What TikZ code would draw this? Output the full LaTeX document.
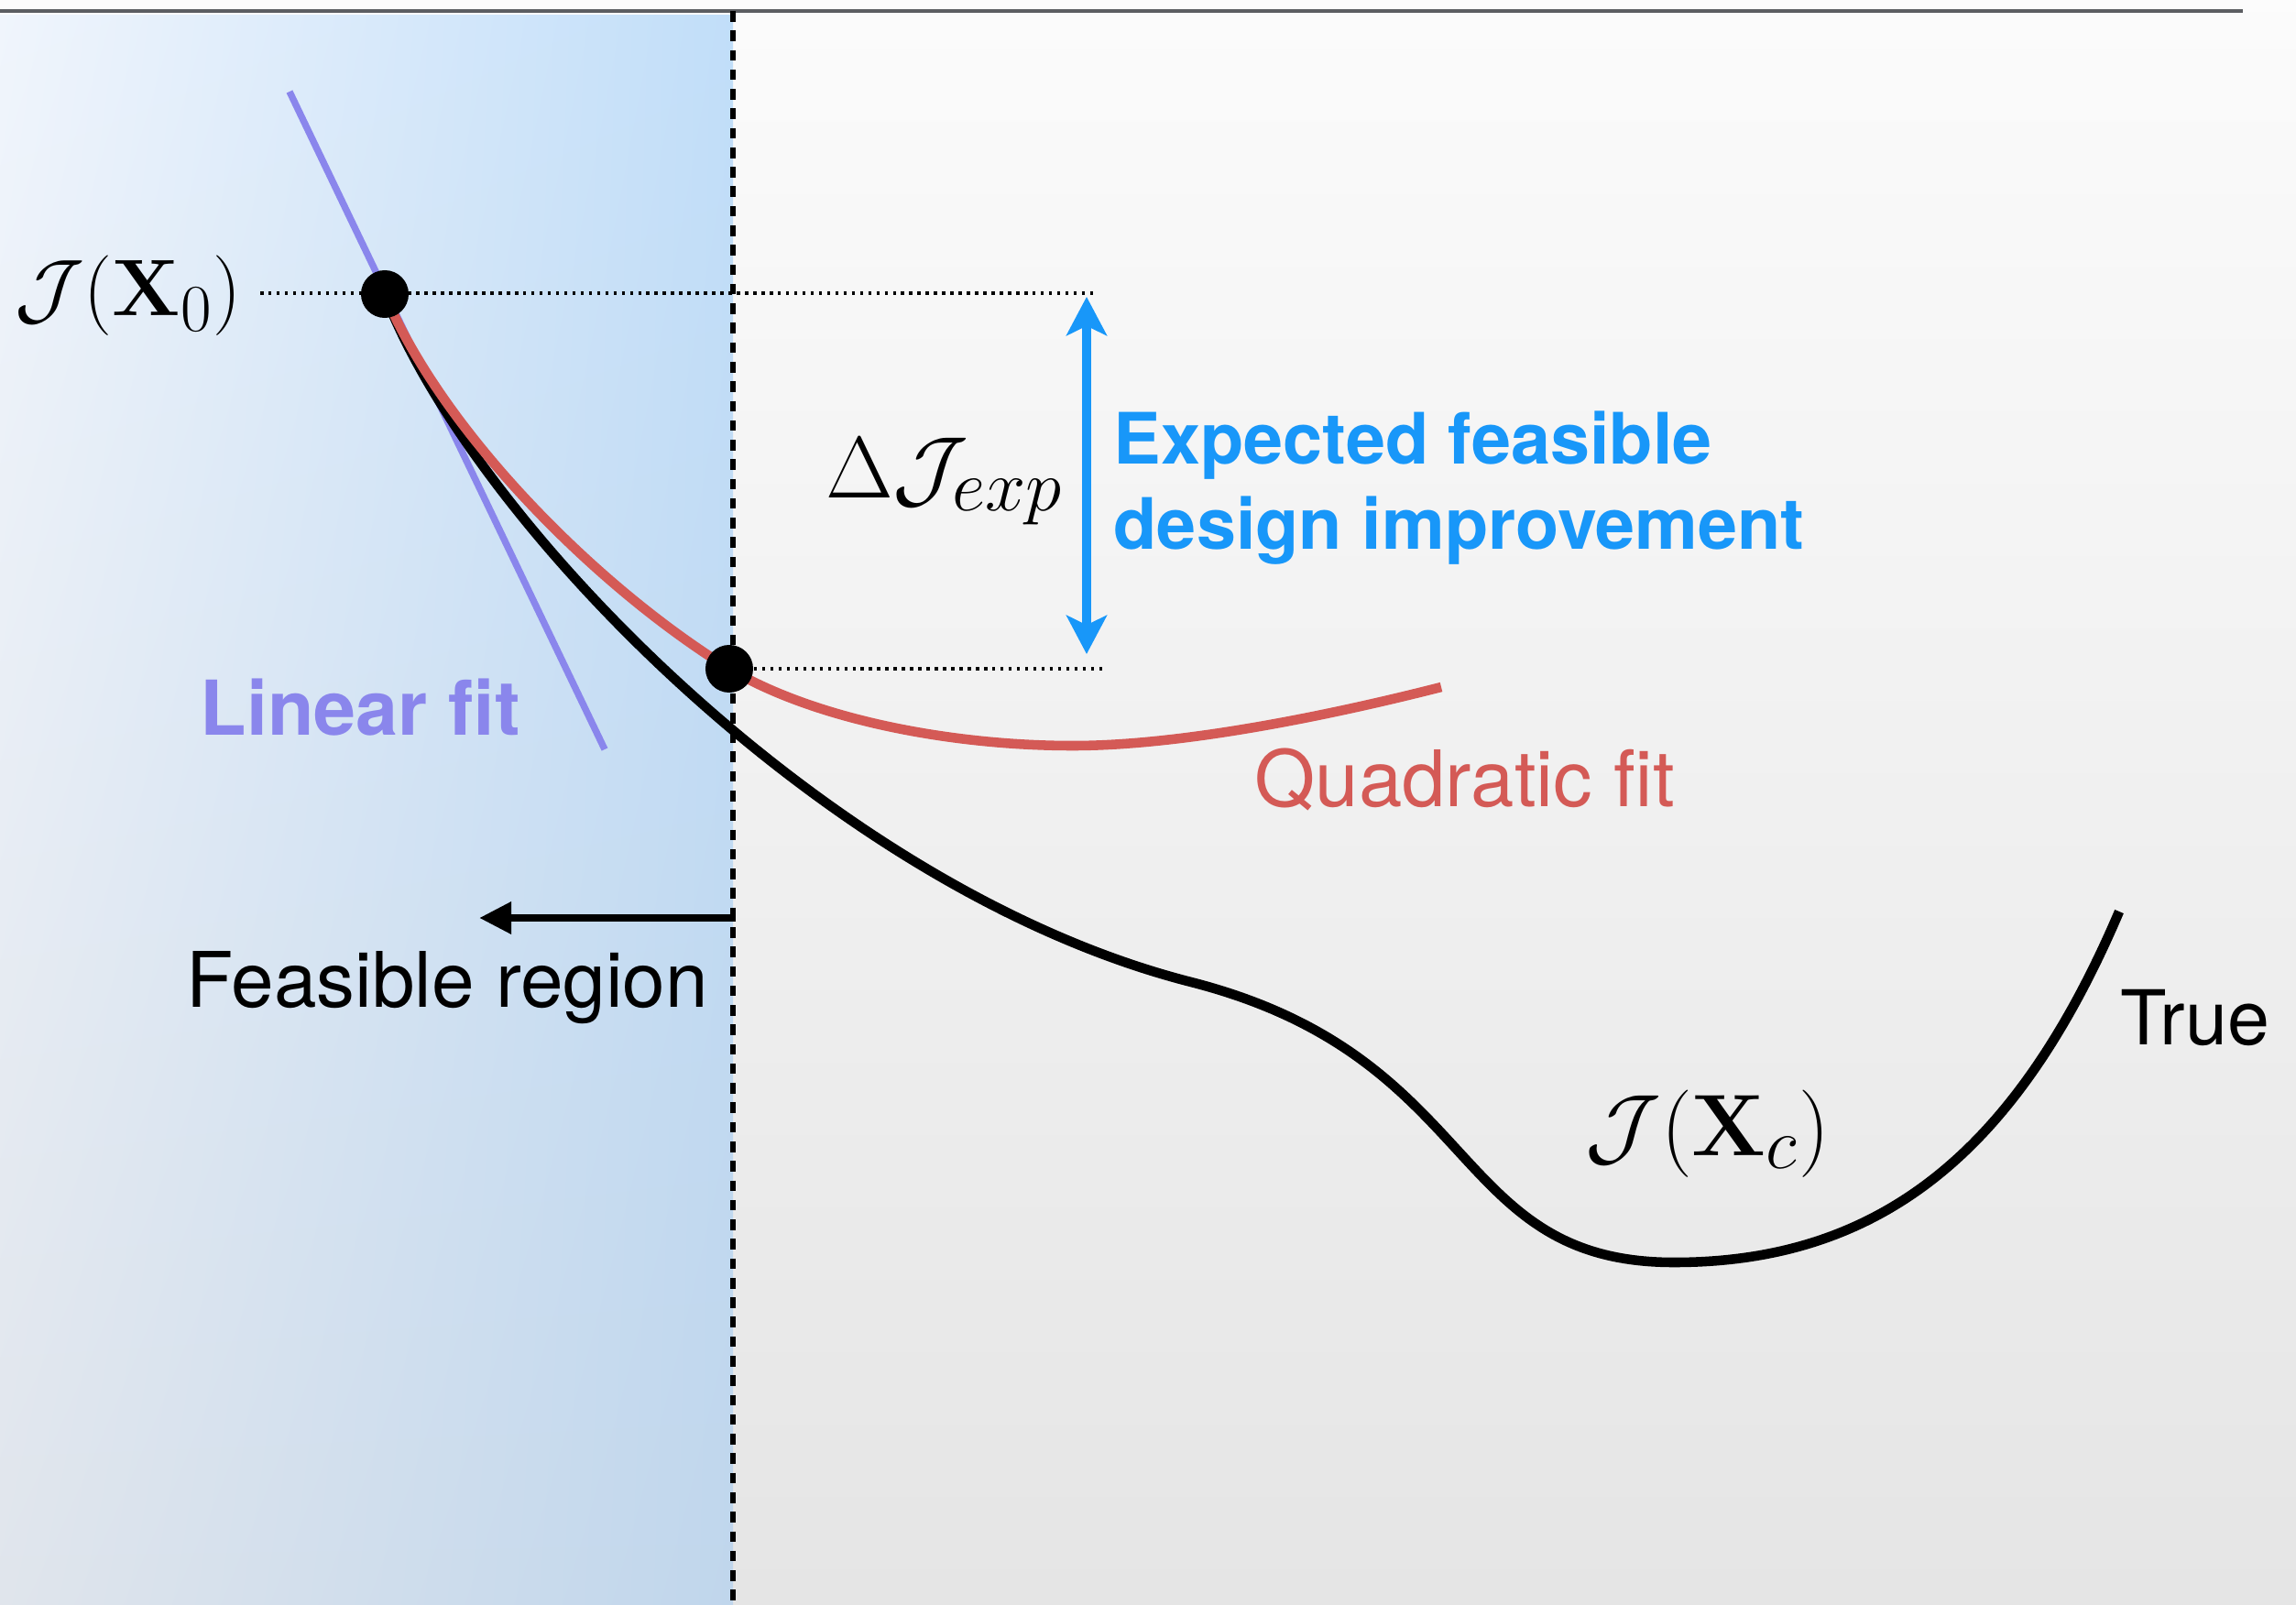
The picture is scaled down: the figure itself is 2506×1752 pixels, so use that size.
\documentclass[tikz,border=0pt]{standalone}
\usepackage[no-math]{fontspec}
\usepackage{graphicx}
\newfontfamily\heros{TeX Gyre Heros}
\usetikzlibrary{arrows.meta,shadings}
\definecolor{bluec}{RGB}{24,151,249}
\definecolor{linpurple}{RGB}{138,134,236}
\definecolor{qred}{RGB}{212,90,86}
\definecolor{topline}{RGB}{92,94,98}
\definecolor{shul}{RGB}{240,245,252}
\definecolor{shur}{RGB}{193,222,249}
\definecolor{shll}{RGB}{224,229,236}
\definecolor{shlr}{RGB}{192,214,236}
\definecolor{bgtop}{RGB}{251,251,251}
\definecolor{bgbot}{RGB}{229,229,229}
\definecolor{paper}{RGB}{252,252,252}
\begin{document}
\begin{tikzpicture}[x=0.01cm,y=-0.01cm,
  dot/.style={circle,fill=black,inner sep=0pt,minimum size=0.52cm},
  truecurve/.style={draw=black,line width=3pt},
  quadcurve/.style={draw=qred,line width=3pt},
  linfit/.style={draw=linpurple,line width=2.1pt},
  guide/.style={draw=black,line width=1pt,dash pattern=on 1pt off 1.55pt},
  boundary/.style={draw=black,line width=1.7pt,dash pattern=on 3.3pt off 2.75pt},
  mathlbl/.style={font=\fontsize{24.88}{30}\selectfont,inner sep=0pt},
  sanslbl/.style={font=\heros\fontsize{23.8}{28}\selectfont,inner sep=0pt},
  boldlbl/.style={font=\heros\bfseries\fontsize{22}{26.7}\selectfont,inner sep=0pt}]
\useasboundingbox (0,0) rectangle (2506,1752);
% backgrounds
\fill[paper] (0,0) rectangle (2506,1752);
\shade[top color=bgtop,bottom color=bgbot] (800,14) rectangle (2506,1752);
\shade[upper left=shul,upper right=shur,lower left=shll,lower right=shlr] (0,17) rectangle (800,1752);
% top rule
\coordinate (tl0) at (0,12);
\coordinate (tl1) at (2448,12);
\draw[topline,line width=1pt] (tl0) -- (tl1);
% feasibility boundary
\coordinate (b0) at (800,12);
\coordinate (b1) at (800,1752);
\draw[boundary] (b0) -- (b1);
% key points
\coordinate (c0) at (420,321);
\coordinate (c1) at (796,730);
% guides
\coordinate (g0) at (284,320);
\coordinate (g1) at (1195,320);
\coordinate (g2) at (1208,730);
\draw[guide] (g0) -- (g1);
\draw[guide] (c1) -- (g2);
% linear fit
\coordinate (l0) at (316,100);
\coordinate (l1) at (660,818);
\draw[linfit] (l0) -- (l1);
% true curve
\draw[truecurve] (c0) .. controls (510,560) and (900,970) .. (1300,1072)
  .. controls (1620,1154) and (1580,1378) .. (1827,1378)
  .. controls (2050,1378) and (2200,1260) .. (2313,995);
% quadratic fit
\draw[quadcurve] (c0) .. controls (482,470) and (650,640) .. (c1)
  .. controls (890,786) and (1040,814) .. (1171,814)
  .. controls (1300,814) and (1473,775.5) .. (1573,750);
% dots
\node[dot] (p0) at (c0) {};
\node[dot] (p1) at (c1) {};
% expected improvement arrow
\coordinate (a0) at (1186,324);
\coordinate (a1) at (1186,714);
\draw[bluec,line width=2.8pt,{Stealth[length=12pt,width=12.5pt,inset=3pt]}-{Stealth[length=12pt,width=12.5pt,inset=3pt]}] (a0) -- (a1);
% feasible region arrow
\coordinate (f0) at (803,1002);
\coordinate (f1) at (523,1002);
\draw[black,line width=2.4pt,-{Triangle[length=10pt,width=9.5pt]}] (f0) -- (f1);
% labels
\node[mathlbl,anchor=base] (jx0) at (140,345) {$\mathcal{J}(\mathbf{X}_0)$};
\node[mathlbl,anchor=base] (dj) at (1031,543) {\scalebox{1.09}{$\Delta\mathcal{J}_{exp}$}};
\node[mathlbl,anchor=base] (jxc) at (1864,1261) {\scalebox{1.09}{$\mathcal{J}(\mathbf{X}_c)$}};
\node[boldlbl,text=bluec,anchor=base west] (exp1) at (1215,506) {Expected feasible};
\node[boldlbl,text=bluec,anchor=base west] (exp2) at (1215,600) {design improvement};
\node[boldlbl,font=\heros\bfseries\fontsize{23.5}{28}\selectfont,text=linpurple,anchor=base west] (lin) at (218,802) {Linear fit};
\node[sanslbl,font=\heros\fontsize{24.2}{28}\selectfont,text=qred,anchor=base west] (quad) at (1369,880) {Quadratic fit};
\node[sanslbl,anchor=base west] (feas) at (203,1099) {Feasible region};
\node[sanslbl,font=\heros\fontsize{23.5}{28}\selectfont,anchor=base west] (truel) at (2314,1140) {True};
\end{tikzpicture}
\end{document}
